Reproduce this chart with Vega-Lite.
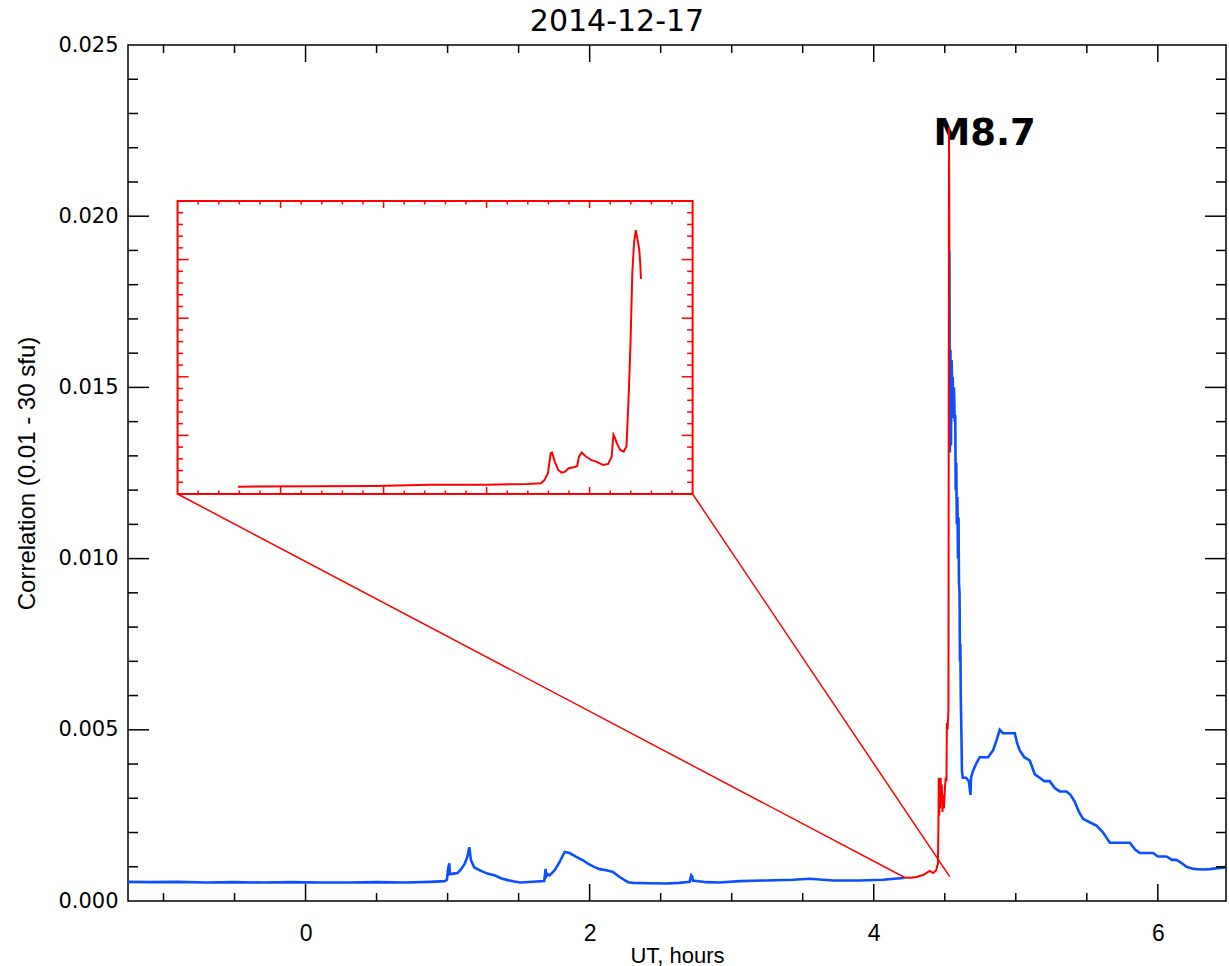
{
  "$schema": "https://vega.github.io/schema/vega-lite/v6.json",
  "width": 1098,
  "height": 856,
  "autosize": "none",
  "padding": {"left": 128, "top": 45, "right": 3, "bottom": 65},
  "background": "white",
  "title": {"text": "2014-12-17", "font": "DejaVu Sans", "fontSize": 30, "fontWeight": "normal", "color": "black", "anchor": "middle", "dx": -60, "offset": -3},
  "config": {
    "view": {"stroke": "black", "strokeWidth": 1.5},
    "axis": {"labelColor": "black", "titleColor": "black", "grid": false, "domain": false, "ticks": false}
  },
  "resolve": {"axis": {"x": "independent", "y": "independent"}},
  "datasets": {
    "blue": [
      {"seg": 1, "t": -1.25, "v": 0.00056}, {"seg": 1, "t": -1.1, "v": 0.00055}, {"seg": 1, "t": -0.9, "v": 0.00056}, {"seg": 1, "t": -0.7, "v": 0.00054}, {"seg": 1, "t": -0.5, "v": 0.00055}, {"seg": 1, "t": -0.3, "v": 0.00054}, {"seg": 1, "t": -0.1, "v": 0.00055}, {"seg": 1, "t": 0.1, "v": 0.00054}, {"seg": 1, "t": 0.3, "v": 0.00054}, {"seg": 1, "t": 0.5, "v": 0.00055}, {"seg": 1, "t": 0.7, "v": 0.00054}, {"seg": 1, "t": 0.88, "v": 0.00056}, {"seg": 1, "t": 0.98, "v": 0.00058}, {"seg": 1, "t": 0.995, "v": 0.00062}, {"seg": 1, "t": 1.005, "v": 0.00098}, {"seg": 1, "t": 1.012, "v": 0.0011}, {"seg": 1, "t": 1.016, "v": 0.00078}, {"seg": 1, "t": 1.04, "v": 0.0008}, {"seg": 1, "t": 1.07, "v": 0.00082}, {"seg": 1, "t": 1.094, "v": 0.00092}, {"seg": 1, "t": 1.12, "v": 0.00108}, {"seg": 1, "t": 1.14, "v": 0.0013}, {"seg": 1, "t": 1.153, "v": 0.00157}, {"seg": 1, "t": 1.164, "v": 0.0012}, {"seg": 1, "t": 1.188, "v": 0.00098}, {"seg": 1, "t": 1.235, "v": 0.00088}, {"seg": 1, "t": 1.28, "v": 0.0008}, {"seg": 1, "t": 1.329, "v": 0.00075}, {"seg": 1, "t": 1.38, "v": 0.00066}, {"seg": 1, "t": 1.423, "v": 0.00061}, {"seg": 1, "t": 1.47, "v": 0.00057}, {"seg": 1, "t": 1.51, "v": 0.00054}, {"seg": 1, "t": 1.6, "v": 0.00056}, {"seg": 1, "t": 1.68, "v": 0.00058}, {"seg": 1, "t": 1.69, "v": 0.00094}, {"seg": 1, "t": 1.695, "v": 0.00072}, {"seg": 1, "t": 1.705, "v": 0.00078}, {"seg": 1, "t": 1.718, "v": 0.00075}, {"seg": 1, "t": 1.754, "v": 0.0009}, {"seg": 1, "t": 1.789, "v": 0.00114}, {"seg": 1, "t": 1.824, "v": 0.00143}, {"seg": 1, "t": 1.859, "v": 0.0014}, {"seg": 1, "t": 1.906, "v": 0.00129}, {"seg": 1, "t": 1.953, "v": 0.00119}, {"seg": 1, "t": 1.988, "v": 0.00109}, {"seg": 1, "t": 2.035, "v": 0.00099}, {"seg": 1, "t": 2.07, "v": 0.00093}, {"seg": 1, "t": 2.118, "v": 0.0009}, {"seg": 1, "t": 2.164, "v": 0.00085}, {"seg": 1, "t": 2.211, "v": 0.0007}, {"seg": 1, "t": 2.27, "v": 0.00055}, {"seg": 1, "t": 2.305, "v": 0.00053}, {"seg": 1, "t": 2.42, "v": 0.00052}, {"seg": 1, "t": 2.54, "v": 0.00051}, {"seg": 1, "t": 2.63, "v": 0.00053}, {"seg": 1, "t": 2.704, "v": 0.00056}, {"seg": 1, "t": 2.715, "v": 0.00075}, {"seg": 1, "t": 2.721, "v": 0.00072}, {"seg": 1, "t": 2.727, "v": 0.0006}, {"seg": 1, "t": 2.822, "v": 0.00055}, {"seg": 1, "t": 2.915, "v": 0.00054}, {"seg": 1, "t": 3.056, "v": 0.00058}, {"seg": 1, "t": 3.244, "v": 0.0006}, {"seg": 1, "t": 3.432, "v": 0.00062}, {"seg": 1, "t": 3.549, "v": 0.00065}, {"seg": 1, "t": 3.713, "v": 0.0006}, {"seg": 1, "t": 3.901, "v": 0.0006}, {"seg": 1, "t": 4.066, "v": 0.00062}, {"seg": 1, "t": 4.206, "v": 0.00067}, {"seg": 1, "t": 4.218, "v": 0.00068},
      {"seg": 2, "t": 4.533, "v": 0.019}, {"seg": 2, "t": 4.536, "v": 0.0131}, {"seg": 2, "t": 4.54, "v": 0.0161}, {"seg": 2, "t": 4.544, "v": 0.0133}, {"seg": 2, "t": 4.548, "v": 0.0158}, {"seg": 2, "t": 4.552, "v": 0.015}, {"seg": 2, "t": 4.556, "v": 0.0153}, {"seg": 2, "t": 4.56, "v": 0.0141}, {"seg": 2, "t": 4.565, "v": 0.015}, {"seg": 2, "t": 4.57, "v": 0.014}, {"seg": 2, "t": 4.574, "v": 0.0142}, {"seg": 2, "t": 4.577, "v": 0.012}, {"seg": 2, "t": 4.581, "v": 0.0128}, {"seg": 2, "t": 4.585, "v": 0.011}, {"seg": 2, "t": 4.589, "v": 0.0118}, {"seg": 2, "t": 4.593, "v": 0.01}, {"seg": 2, "t": 4.597, "v": 0.0112}, {"seg": 2, "t": 4.6, "v": 0.0093}, {"seg": 2, "t": 4.604, "v": 0.009}, {"seg": 2, "t": 4.607, "v": 0.007}, {"seg": 2, "t": 4.61, "v": 0.0075}, {"seg": 2, "t": 4.613, "v": 0.0059}, {"seg": 2, "t": 4.616, "v": 0.0052}, {"seg": 2, "t": 4.618, "v": 0.0047}, {"seg": 2, "t": 4.621, "v": 0.0038}, {"seg": 2, "t": 4.627, "v": 0.0036}, {"seg": 2, "t": 4.65, "v": 0.0036}, {"seg": 2, "t": 4.67, "v": 0.0035}, {"seg": 2, "t": 4.681, "v": 0.0031}, {"seg": 2, "t": 4.685, "v": 0.0036}, {"seg": 2, "t": 4.699, "v": 0.0038}, {"seg": 2, "t": 4.72, "v": 0.004}, {"seg": 2, "t": 4.746, "v": 0.0042}, {"seg": 2, "t": 4.775, "v": 0.0042}, {"seg": 2, "t": 4.805, "v": 0.0042}, {"seg": 2, "t": 4.84, "v": 0.0044}, {"seg": 2, "t": 4.865, "v": 0.0047}, {"seg": 2, "t": 4.887, "v": 0.005}, {"seg": 2, "t": 4.91, "v": 0.0049}, {"seg": 2, "t": 4.934, "v": 0.0049}, {"seg": 2, "t": 4.965, "v": 0.0049}, {"seg": 2, "t": 4.993, "v": 0.0049}, {"seg": 2, "t": 5.01, "v": 0.0046}, {"seg": 2, "t": 5.028, "v": 0.0044}, {"seg": 2, "t": 5.06, "v": 0.0042}, {"seg": 2, "t": 5.099, "v": 0.0041}, {"seg": 2, "t": 5.134, "v": 0.0037}, {"seg": 2, "t": 5.169, "v": 0.0036}, {"seg": 2, "t": 5.2, "v": 0.0035}, {"seg": 2, "t": 5.239, "v": 0.0035}, {"seg": 2, "t": 5.275, "v": 0.0033}, {"seg": 2, "t": 5.31, "v": 0.0032}, {"seg": 2, "t": 5.357, "v": 0.0032}, {"seg": 2, "t": 5.385, "v": 0.0031}, {"seg": 2, "t": 5.415, "v": 0.0029}, {"seg": 2, "t": 5.445, "v": 0.0026}, {"seg": 2, "t": 5.474, "v": 0.0024}, {"seg": 2, "t": 5.52, "v": 0.0023}, {"seg": 2, "t": 5.568, "v": 0.0022}, {"seg": 2, "t": 5.615, "v": 0.002}, {"seg": 2, "t": 5.662, "v": 0.0017}, {"seg": 2, "t": 5.7, "v": 0.0017}, {"seg": 2, "t": 5.75, "v": 0.0017}, {"seg": 2, "t": 5.803, "v": 0.0017}, {"seg": 2, "t": 5.84, "v": 0.0015}, {"seg": 2, "t": 5.873, "v": 0.0014}, {"seg": 2, "t": 5.92, "v": 0.0014}, {"seg": 2, "t": 5.967, "v": 0.0014}, {"seg": 2, "t": 6.0, "v": 0.0013}, {"seg": 2, "t": 6.061, "v": 0.0013}, {"seg": 2, "t": 6.1, "v": 0.0012}, {"seg": 2, "t": 6.132, "v": 0.0012}, {"seg": 2, "t": 6.17, "v": 0.0011}, {"seg": 2, "t": 6.202, "v": 0.001}, {"seg": 2, "t": 6.24, "v": 0.00095}, {"seg": 2, "t": 6.273, "v": 0.00093}, {"seg": 2, "t": 6.32, "v": 0.00092}, {"seg": 2, "t": 6.366, "v": 0.00093}, {"seg": 2, "t": 6.42, "v": 0.00096}, {"seg": 2, "t": 6.479, "v": 0.00098}
    ],
    "red": [
      {"t": 4.218, "v": 0.00068}, {"t": 4.26, "v": 0.00068}, {"t": 4.3, "v": 0.0007}, {"t": 4.347, "v": 0.00076}, {"t": 4.394, "v": 0.00088}, {"t": 4.405, "v": 0.00085}, {"t": 4.418, "v": 0.00082}, {"t": 4.44, "v": 0.0009}, {"t": 4.452, "v": 0.0011}, {"t": 4.456, "v": 0.0024}, {"t": 4.458, "v": 0.0036}, {"t": 4.461, "v": 0.0025}, {"t": 4.464, "v": 0.0036}, {"t": 4.467, "v": 0.0027}, {"t": 4.471, "v": 0.0036}, {"t": 4.475, "v": 0.003}, {"t": 4.479, "v": 0.0034}, {"t": 4.484, "v": 0.0026}, {"t": 4.489, "v": 0.0031}, {"t": 4.495, "v": 0.0027}, {"t": 4.501, "v": 0.0033}, {"t": 4.507, "v": 0.0036}, {"t": 4.512, "v": 0.0035}, {"t": 4.515, "v": 0.0052}, {"t": 4.52, "v": 0.005}, {"t": 4.526, "v": 0.0056}, {"t": 4.53, "v": 0.0226}, {"t": 4.533, "v": 0.019}
    ],
    "inset": [
      {"t": -0.4764, "v": 0.012102}, {"t": 0.4936, "v": 0.012121}, {"t": 0.8815, "v": 0.01216}, {"t": 1.2699, "v": 0.01216}, {"t": 1.5607, "v": 0.01218}, {"t": 1.6579, "v": 0.012199}, {"t": 1.6822, "v": 0.012297}, {"t": 1.7065, "v": 0.012492}, {"t": 1.7257, "v": 0.013077}, {"t": 1.7355, "v": 0.013097}, {"t": 1.7547, "v": 0.012833}, {"t": 1.779, "v": 0.01259}, {"t": 1.8033, "v": 0.012512}, {"t": 1.8276, "v": 0.012541}, {"t": 1.8519, "v": 0.012638}, {"t": 1.8881, "v": 0.012667}, {"t": 1.9124, "v": 0.012707}, {"t": 1.9247, "v": 0.01298}, {"t": 1.944, "v": 0.013097}, {"t": 1.973, "v": 0.01298}, {"t": 2.0096, "v": 0.012882}, {"t": 2.0459, "v": 0.012833}, {"t": 2.0944, "v": 0.012736}, {"t": 2.1307, "v": 0.012765}, {"t": 2.155, "v": 0.01298}, {"t": 2.1673, "v": 0.013614}, {"t": 2.1793, "v": 0.013516}, {"t": 2.1912, "v": 0.01337}, {"t": 2.2155, "v": 0.013175}, {"t": 2.2398, "v": 0.013126}, {"t": 2.2594, "v": 0.013272}, {"t": 2.2765, "v": 0.014932}, {"t": 2.2884, "v": 0.016395}, {"t": 2.3004, "v": 0.018346}, {"t": 2.3127, "v": 0.019225}, {"t": 2.3247, "v": 0.019595}, {"t": 2.337, "v": 0.019322}, {"t": 2.349, "v": 0.01903}, {"t": 2.3562, "v": 0.018639}, {"t": 2.3613, "v": 0.01817}
    ],
    "connectors": [
      {"t0": -0.901, "v0": 0.011887, "t1": 4.218, "v1": 0.000686},
      {"t0": 2.725, "v0": 0.011887, "t1": 4.535, "v1": 0.00071}
    ],
    "xTicks": [
      {"t": -1, "major": false}, {"t": -0.5, "major": false}, {"t": 0, "major": true}, {"t": 0.5, "major": false}, {"t": 1, "major": false}, {"t": 1.5, "major": false}, {"t": 2, "major": true}, {"t": 2.5, "major": false}, {"t": 3, "major": false}, {"t": 3.5, "major": false}, {"t": 4, "major": true}, {"t": 4.5, "major": false}, {"t": 5, "major": false}, {"t": 5.5, "major": false}, {"t": 6, "major": true}
    ],
    "yTicks": [
      {"v": 0.001, "major": false}, {"v": 0.002, "major": false}, {"v": 0.003, "major": false}, {"v": 0.004, "major": false}, {"v": 0.005, "major": true}, {"v": 0.006, "major": false}, {"v": 0.007, "major": false}, {"v": 0.008, "major": false}, {"v": 0.009, "major": false}, {"v": 0.01, "major": true}, {"v": 0.011, "major": false}, {"v": 0.012, "major": false}, {"v": 0.013, "major": false}, {"v": 0.014, "major": false}, {"v": 0.015, "major": true}, {"v": 0.016, "major": false}, {"v": 0.017, "major": false}, {"v": 0.018, "major": false}, {"v": 0.019, "major": false}, {"v": 0.02, "major": true}, {"v": 0.021, "major": false}, {"v": 0.022, "major": false}, {"v": 0.023, "major": false}, {"v": 0.024, "major": false}
    ],
    "insetXTicks": [
      {"t": -0.75596, "major": false}, {"t": -0.61092, "major": false}, {"t": -0.46588, "major": false}, {"t": -0.32084, "major": false}, {"t": -0.1758, "major": true}, {"t": -0.03076, "major": false}, {"t": 0.11428, "major": false}, {"t": 0.25932, "major": false}, {"t": 0.40436, "major": false}, {"t": 0.5494, "major": true}, {"t": 0.69444, "major": false}, {"t": 0.83948, "major": false}, {"t": 0.98452, "major": false}, {"t": 1.12956, "major": false}, {"t": 1.2746, "major": true}, {"t": 1.41964, "major": false}, {"t": 1.56468, "major": false}, {"t": 1.70972, "major": false}, {"t": 1.85476, "major": false}, {"t": 1.9998, "major": true}, {"t": 2.14484, "major": false}, {"t": 2.28988, "major": false}, {"t": 2.43492, "major": false}, {"t": 2.57996, "major": false}
    ],
    "insetYTicks": [
      {"v": 0.012229, "major": false}, {"v": 0.012572, "major": false}, {"v": 0.012914, "major": false}, {"v": 0.013256, "major": false}, {"v": 0.013598, "major": true}, {"v": 0.013941, "major": false}, {"v": 0.014283, "major": false}, {"v": 0.014625, "major": false}, {"v": 0.014968, "major": false}, {"v": 0.01531, "major": true}, {"v": 0.015652, "major": false}, {"v": 0.015994, "major": false}, {"v": 0.016337, "major": false}, {"v": 0.016679, "major": false}, {"v": 0.017021, "major": true}, {"v": 0.017363, "major": false}, {"v": 0.017706, "major": false}, {"v": 0.018048, "major": false}, {"v": 0.01839, "major": false}, {"v": 0.018733, "major": true}, {"v": 0.019075, "major": false}, {"v": 0.019417, "major": false}, {"v": 0.019759, "major": false}, {"v": 0.020102, "major": false}
    ]
  },
  "layer": [
    {
      "data": {"name": "blue"},
      "mark": {"type": "line", "color": "#0a50ff", "strokeWidth": 2.6, "clip": true},
      "encoding": {
        "x": {"field": "t", "type": "quantitative", "scale": {"domain": [-1.25, 6.48], "nice": false, "zero": false},
          "axis": {"orient": "bottom", "values": [0, 2, 4, 6], "format": "d", "labelFlush": false, "labelOverlap": false,
            "labelFont": "Liberation Sans", "labelFontSize": 23, "labelPadding": 21,
            "title": "UT, hours", "titleFont": "Liberation Sans", "titleFontSize": 22, "titleFontWeight": "normal", "titlePadding": 0}},
        "y": {"field": "v", "type": "quantitative", "scale": {"domain": [0, 0.025], "nice": false, "zero": false},
          "axis": {"orient": "left", "values": [0, 0.005, 0.01, 0.015, 0.02, 0.025], "format": ".3f", "labelFlush": false, "labelOverlap": false,
            "labelFont": "DejaVu Sans", "labelFontSize": 21, "labelPadding": 10,
            "title": "Correlation (0.01 - 30 sfu)", "titleFont": "Liberation Sans", "titleFontSize": 24, "titleFontWeight": "normal", "titlePadding": 18}},
        "detail": {"field": "seg", "type": "nominal"}
      }
    },
    {
      "data": {"values": [{}]},
      "mark": {"type": "text", "font": "DejaVu Sans", "fontWeight": "bold", "fontSize": 37, "align": "left", "baseline": "alphabetic", "color": "black"},
      "encoding": {
        "x": {"datum": 4.42, "type": "quantitative", "scale": {"domain": [-1.25, 6.48], "nice": false, "zero": false}, "axis": null},
        "y": {"datum": 0.02208, "type": "quantitative", "scale": {"domain": [0, 0.025], "nice": false, "zero": false}, "axis": null},
        "text": {"value": "M8.7"}
      }
    },
    {
      "data": {"name": "red"},
      "mark": {"type": "line", "color": "#ff0000", "strokeWidth": 2, "clip": true},
      "encoding": {
        "x": {"field": "t", "type": "quantitative", "scale": {"domain": [-1.25, 6.48], "nice": false, "zero": false}, "axis": null},
        "y": {"field": "v", "type": "quantitative", "scale": {"domain": [0, 0.025], "nice": false, "zero": false}, "axis": null}
      }
    },
    {
      "data": {"values": [{}]},
      "mark": {"type": "rect", "fill": null, "fillOpacity": 0, "stroke": "#ff0000", "strokeWidth": 2},
      "encoding": {
        "x": {"datum": -0.901, "type": "quantitative", "scale": {"domain": [-1.25, 6.48], "nice": false, "zero": false}, "axis": null},
        "x2": {"datum": 2.725},
        "y": {"datum": 0.011887, "type": "quantitative", "scale": {"domain": [0, 0.025], "nice": false, "zero": false}, "axis": null},
        "y2": {"datum": 0.020444}
      }
    },
    {
      "data": {"name": "connectors"},
      "mark": {"type": "rule", "color": "#ff0000", "strokeWidth": 1.5},
      "encoding": {
        "x": {"field": "t0", "type": "quantitative", "scale": {"domain": [-1.25, 6.48], "nice": false, "zero": false}, "axis": null},
        "x2": {"field": "t1"},
        "y": {"field": "v0", "type": "quantitative", "scale": {"domain": [0, 0.025], "nice": false, "zero": false}, "axis": null},
        "y2": {"field": "v1"}
      }
    },
    {
      "data": {"name": "inset"},
      "mark": {"type": "line", "color": "#ff0000", "strokeWidth": 2},
      "encoding": {
        "x": {"field": "t", "type": "quantitative", "scale": {"domain": [-1.25, 6.48], "nice": false, "zero": false}, "axis": null},
        "y": {"field": "v", "type": "quantitative", "scale": {"domain": [0, 0.025], "nice": false, "zero": false}, "axis": null}
      }
    },
    {
      "data": {"name": "xTicks"},
      "transform": [{"filter": "!datum.major"}],
      "mark": {"type": "rule", "color": "black", "strokeWidth": 1.5, "y2Offset": -8},
      "encoding": {
        "x": {"field": "t", "type": "quantitative", "scale": {"domain": [-1.25, 6.48], "nice": false, "zero": false}, "axis": null},
        "y": {"datum": 0, "type": "quantitative", "scale": {"domain": [0, 0.025], "nice": false, "zero": false}, "axis": null},
        "y2": {"datum": 0}
      }
    },
    {
      "data": {"name": "xTicks"},
      "transform": [{"filter": "datum.major"}],
      "mark": {"type": "rule", "color": "black", "strokeWidth": 1.5, "y2Offset": -17},
      "encoding": {
        "x": {"field": "t", "type": "quantitative", "scale": {"domain": [-1.25, 6.48], "nice": false, "zero": false}, "axis": null},
        "y": {"datum": 0, "type": "quantitative", "scale": {"domain": [0, 0.025], "nice": false, "zero": false}, "axis": null},
        "y2": {"datum": 0}
      }
    },
    {
      "data": {"name": "xTicks"},
      "transform": [{"filter": "!datum.major"}],
      "mark": {"type": "rule", "color": "black", "strokeWidth": 1.5, "y2Offset": 8},
      "encoding": {
        "x": {"field": "t", "type": "quantitative", "scale": {"domain": [-1.25, 6.48], "nice": false, "zero": false}, "axis": null},
        "y": {"datum": 0.025, "type": "quantitative", "scale": {"domain": [0, 0.025], "nice": false, "zero": false}, "axis": null},
        "y2": {"datum": 0.025}
      }
    },
    {
      "data": {"name": "xTicks"},
      "transform": [{"filter": "datum.major"}],
      "mark": {"type": "rule", "color": "black", "strokeWidth": 1.5, "y2Offset": 17},
      "encoding": {
        "x": {"field": "t", "type": "quantitative", "scale": {"domain": [-1.25, 6.48], "nice": false, "zero": false}, "axis": null},
        "y": {"datum": 0.025, "type": "quantitative", "scale": {"domain": [0, 0.025], "nice": false, "zero": false}, "axis": null},
        "y2": {"datum": 0.025}
      }
    },
    {
      "data": {"name": "yTicks"},
      "transform": [{"filter": "!datum.major"}],
      "mark": {"type": "rule", "color": "black", "strokeWidth": 1.5, "x2Offset": 10},
      "encoding": {
        "y": {"field": "v", "type": "quantitative", "scale": {"domain": [0, 0.025], "nice": false, "zero": false}, "axis": null},
        "x": {"datum": -1.25, "type": "quantitative", "scale": {"domain": [-1.25, 6.48], "nice": false, "zero": false}, "axis": null},
        "x2": {"datum": -1.25}
      }
    },
    {
      "data": {"name": "yTicks"},
      "transform": [{"filter": "datum.major"}],
      "mark": {"type": "rule", "color": "black", "strokeWidth": 1.5, "x2Offset": 21},
      "encoding": {
        "y": {"field": "v", "type": "quantitative", "scale": {"domain": [0, 0.025], "nice": false, "zero": false}, "axis": null},
        "x": {"datum": -1.25, "type": "quantitative", "scale": {"domain": [-1.25, 6.48], "nice": false, "zero": false}, "axis": null},
        "x2": {"datum": -1.25}
      }
    },
    {
      "data": {"name": "yTicks"},
      "transform": [{"filter": "!datum.major"}],
      "mark": {"type": "rule", "color": "black", "strokeWidth": 1.5, "x2Offset": -10},
      "encoding": {
        "y": {"field": "v", "type": "quantitative", "scale": {"domain": [0, 0.025], "nice": false, "zero": false}, "axis": null},
        "x": {"datum": 6.48, "type": "quantitative", "scale": {"domain": [-1.25, 6.48], "nice": false, "zero": false}, "axis": null},
        "x2": {"datum": 6.48}
      }
    },
    {
      "data": {"name": "yTicks"},
      "transform": [{"filter": "datum.major"}],
      "mark": {"type": "rule", "color": "black", "strokeWidth": 1.5, "x2Offset": -21},
      "encoding": {
        "y": {"field": "v", "type": "quantitative", "scale": {"domain": [0, 0.025], "nice": false, "zero": false}, "axis": null},
        "x": {"datum": 6.48, "type": "quantitative", "scale": {"domain": [-1.25, 6.48], "nice": false, "zero": false}, "axis": null},
        "x2": {"datum": 6.48}
      }
    },
    {
      "data": {"name": "insetXTicks"},
      "transform": [{"filter": "!datum.major"}],
      "mark": {"type": "rule", "color": "#ff0000", "strokeWidth": 1.5, "y2Offset": 3.5},
      "encoding": {
        "x": {"field": "t", "type": "quantitative", "scale": {"domain": [-1.25, 6.48], "nice": false, "zero": false}, "axis": null},
        "y": {"datum": 0.020444, "type": "quantitative", "scale": {"domain": [0, 0.025], "nice": false, "zero": false}, "axis": null},
        "y2": {"datum": 0.020444}
      }
    },
    {
      "data": {"name": "insetXTicks"},
      "transform": [{"filter": "datum.major"}],
      "mark": {"type": "rule", "color": "#ff0000", "strokeWidth": 1.5, "y2Offset": 7},
      "encoding": {
        "x": {"field": "t", "type": "quantitative", "scale": {"domain": [-1.25, 6.48], "nice": false, "zero": false}, "axis": null},
        "y": {"datum": 0.020444, "type": "quantitative", "scale": {"domain": [0, 0.025], "nice": false, "zero": false}, "axis": null},
        "y2": {"datum": 0.020444}
      }
    },
    {
      "data": {"name": "insetXTicks"},
      "transform": [{"filter": "!datum.major"}],
      "mark": {"type": "rule", "color": "#ff0000", "strokeWidth": 1.5, "y2Offset": -3.5},
      "encoding": {
        "x": {"field": "t", "type": "quantitative", "scale": {"domain": [-1.25, 6.48], "nice": false, "zero": false}, "axis": null},
        "y": {"datum": 0.011887, "type": "quantitative", "scale": {"domain": [0, 0.025], "nice": false, "zero": false}, "axis": null},
        "y2": {"datum": 0.011887}
      }
    },
    {
      "data": {"name": "insetXTicks"},
      "transform": [{"filter": "datum.major"}],
      "mark": {"type": "rule", "color": "#ff0000", "strokeWidth": 1.5, "y2Offset": -7},
      "encoding": {
        "x": {"field": "t", "type": "quantitative", "scale": {"domain": [-1.25, 6.48], "nice": false, "zero": false}, "axis": null},
        "y": {"datum": 0.011887, "type": "quantitative", "scale": {"domain": [0, 0.025], "nice": false, "zero": false}, "axis": null},
        "y2": {"datum": 0.011887}
      }
    },
    {
      "data": {"name": "insetYTicks"},
      "transform": [{"filter": "!datum.major"}],
      "mark": {"type": "rule", "color": "#ff0000", "strokeWidth": 1.5, "x2Offset": 5.5},
      "encoding": {
        "y": {"field": "v", "type": "quantitative", "scale": {"domain": [0, 0.025], "nice": false, "zero": false}, "axis": null},
        "x": {"datum": -0.901, "type": "quantitative", "scale": {"domain": [-1.25, 6.48], "nice": false, "zero": false}, "axis": null},
        "x2": {"datum": -0.901}
      }
    },
    {
      "data": {"name": "insetYTicks"},
      "transform": [{"filter": "datum.major"}],
      "mark": {"type": "rule", "color": "#ff0000", "strokeWidth": 1.5, "x2Offset": 11},
      "encoding": {
        "y": {"field": "v", "type": "quantitative", "scale": {"domain": [0, 0.025], "nice": false, "zero": false}, "axis": null},
        "x": {"datum": -0.901, "type": "quantitative", "scale": {"domain": [-1.25, 6.48], "nice": false, "zero": false}, "axis": null},
        "x2": {"datum": -0.901}
      }
    },
    {
      "data": {"name": "insetYTicks"},
      "transform": [{"filter": "!datum.major"}],
      "mark": {"type": "rule", "color": "#ff0000", "strokeWidth": 1.5, "x2Offset": -5.5},
      "encoding": {
        "y": {"field": "v", "type": "quantitative", "scale": {"domain": [0, 0.025], "nice": false, "zero": false}, "axis": null},
        "x": {"datum": 2.725, "type": "quantitative", "scale": {"domain": [-1.25, 6.48], "nice": false, "zero": false}, "axis": null},
        "x2": {"datum": 2.725}
      }
    },
    {
      "data": {"name": "insetYTicks"},
      "transform": [{"filter": "datum.major"}],
      "mark": {"type": "rule", "color": "#ff0000", "strokeWidth": 1.5, "x2Offset": -11},
      "encoding": {
        "y": {"field": "v", "type": "quantitative", "scale": {"domain": [0, 0.025], "nice": false, "zero": false}, "axis": null},
        "x": {"datum": 2.725, "type": "quantitative", "scale": {"domain": [-1.25, 6.48], "nice": false, "zero": false}, "axis": null},
        "x2": {"datum": 2.725}
      }
    }
  ]
}
